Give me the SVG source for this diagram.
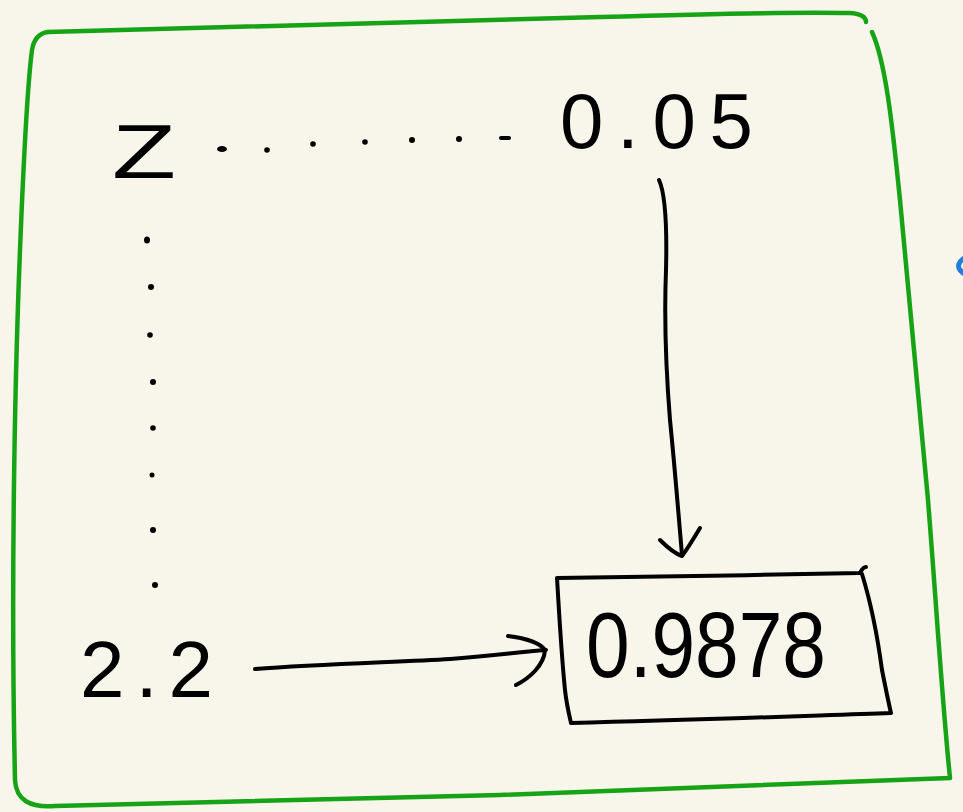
<svg xmlns="http://www.w3.org/2000/svg" width="963" height="812" viewBox="0 0 963 812">
<style>
.ink{fill:none;stroke:#000;stroke-width:4;stroke-linecap:round;stroke-linejoin:round}
.frame{fill:none;stroke:#16a316;stroke-width:4.5;stroke-linecap:round;stroke-linejoin:round}
.dot{fill:#000}
.t{font-family:"Liberation Sans",Arial,sans-serif;fill:#000;font-weight:normal}
</style>
<rect width="963" height="812" fill="#f8f6eb"/>
<g id="frame">
<path class="frame" d="M48,32 C200,27 400,22 600,17 C700,14 800,12 850,13 C862,14 866,18 866,22"/>
<path class="frame" d="M872,32 C885,60 892,120 900,200 C910,300 918,400 928,500 C936,600 942,700 950,778 C850,782 700,788 500,795 C300,800 150,803 55,806 C30,808 16,800 15,780 C11,600 14,400 20,250 C24,150 28,80 32,50 C34,38 40,33 48,32"/>
<path d="M963,259 C959,262 957,266 960,270 C961,271 962,272 963,273" fill="none" stroke="#1e7fe0" stroke-width="5" stroke-linecap="round"/>
</g>
<g id="node-z"><text class="t" x="112" y="178" font-size="76" textLength="64" lengthAdjust="spacingAndGlyphs">Z</text></g>
<g id="node-005"><text class="t" x="560" y="148" font-size="78" textLength="193" lengthAdjust="spacing">0.05</text></g>
<g id="node-22"><text class="t" x="80" y="697" font-size="80" textLength="133" lengthAdjust="spacing">2.2</text></g>
<g id="node-result">
<path class="ink" d="M557,578 C650,577 760,575 860,573 C862,569 864,567 866,567 M862,574 C870,600 878,640 882,670 C886,690 889,705 891,713 C800,716 700,720 571,723 C568,710 566,700 565,690 C561,650 559,610 557,578"/>
<text class="t" x="586" y="677" font-size="92" textLength="240" lengthAdjust="spacingAndGlyphs">0.9878</text>
</g>
<g id="connectors">
<g class="dot">
<ellipse cx="222" cy="149" rx="5" ry="3"/>
<circle cx="267" cy="150" r="2.8"/>
<circle cx="313" cy="144" r="2.8"/>
<circle cx="365" cy="142" r="2.8"/>
<circle cx="412" cy="140" r="3"/>
<circle cx="459" cy="139" r="3"/>
<rect x="499" y="136" width="12" height="4" rx="2"/>
<ellipse cx="147" cy="240" rx="3" ry="3.5"/>
<circle cx="151" cy="287" r="3"/>
<circle cx="150" cy="335" r="2.8"/>
<circle cx="153" cy="382" r="3"/>
<circle cx="153" cy="428" r="2.8"/>
<circle cx="152" cy="475" r="2.5"/>
<circle cx="153" cy="530" r="3"/>
<circle cx="155" cy="585" r="3"/>
</g>
<path class="ink" d="M659,180 C666,195 667,230 666,270 C664,320 666,370 670,420 C675,470 679,520 682,555"/>
<path class="ink" d="M660,540 C668,548 676,554 682,556 C688,548 694,538 700,528"/>
<path class="ink" d="M255,669 C320,664 400,662 450,659 C490,656 520,652 546,650"/>
<path class="ink" d="M508,636 C525,638 540,643 545,650 C544,665 530,678 516,685"/>
</g>
</svg>
